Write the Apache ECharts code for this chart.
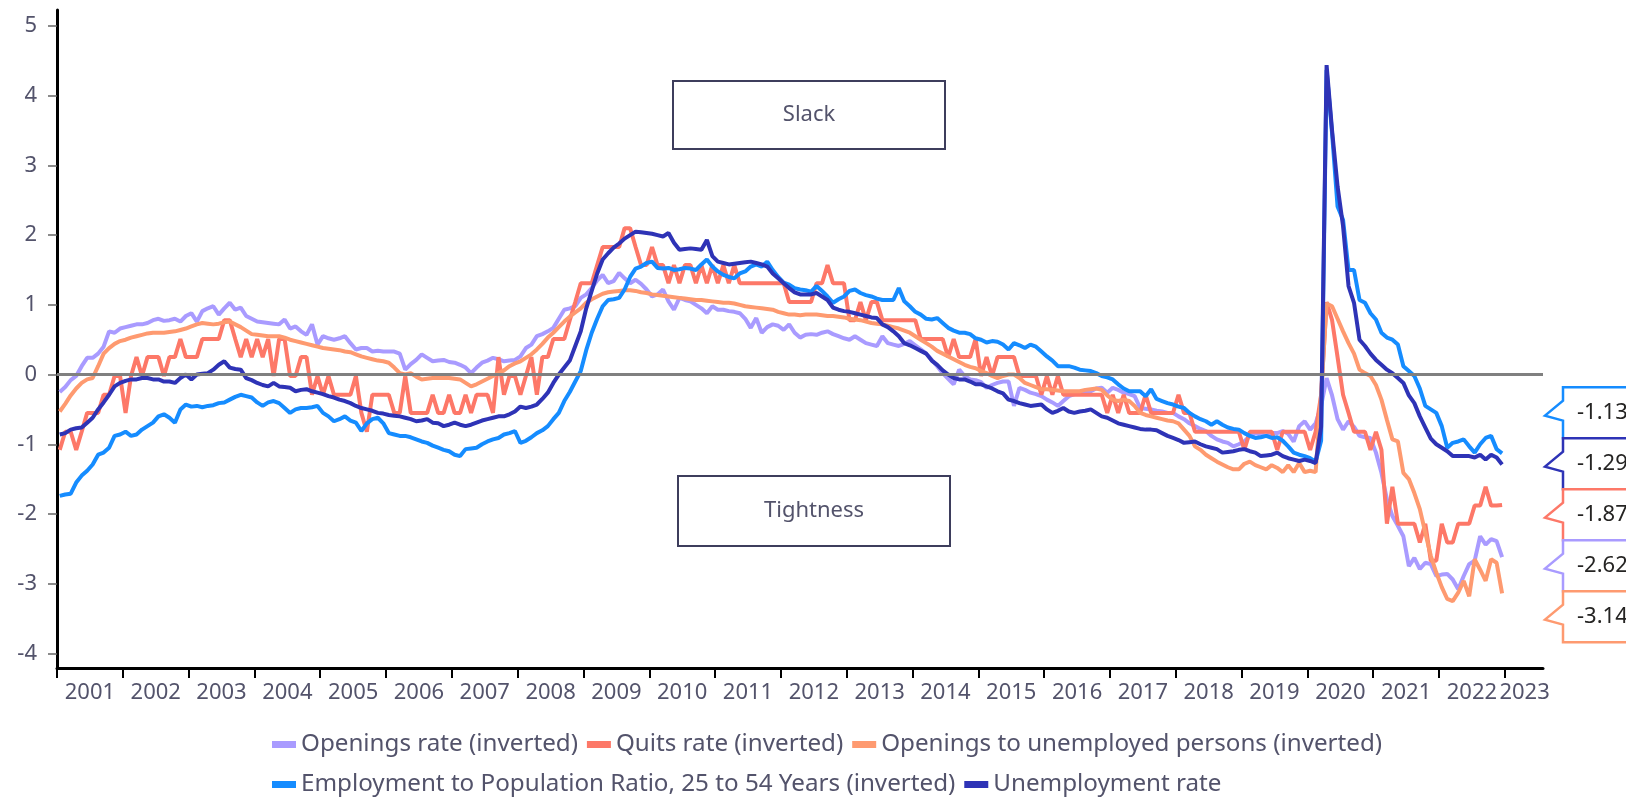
<!DOCTYPE html>
<html lang="en" style="height: 100%">

<head>
  <meta charset="utf-8">
</head>

<body style="height: 100%; margin: 0">
  <div id="container" style="width: 1626px; height: 799px"></div>

  <script type="text/javascript" src="https://fastly.jsdelivr.net/npm/echarts@6/dist/echarts.min.js"></script>

  <script type="text/javascript">
    // monthly values, Jan 2001 .. Dec 2022 (one row per year), standardised, up = slack
    var openingsRate = [
      -0.25, -0.18, -0.08, -0.02, 0.12, 0.24, 0.24, 0.30, 0.40, 0.62, 0.60, 0.66,
      0.68, 0.70, 0.72, 0.72, 0.74, 0.78, 0.80, 0.77, 0.78, 0.80, 0.76, 0.84,
      0.88, 0.76, 0.91, 0.95, 0.98, 0.86, 0.95, 1.03, 0.93, 0.96, 0.84, 0.80,
      0.76, 0.75, 0.74, 0.73, 0.72, 0.79, 0.66, 0.69, 0.62, 0.57, 0.72, 0.43,
      0.55, 0.52, 0.50, 0.52, 0.55, 0.45, 0.36, 0.38, 0.38, 0.33, 0.34, 0.33,
      0.33, 0.33, 0.30, 0.07, 0.15, 0.21, 0.29, 0.24, 0.19, 0.20, 0.21, 0.18,
      0.17, 0.14, 0.10, 0.02, 0.10, 0.17, 0.20, 0.24, 0.22, 0.19, 0.20, 0.21,
      0.26, 0.38, 0.43, 0.55, 0.58, 0.62, 0.67, 0.80, 0.93, 0.95, 0.98, 1.10,
      1.15, 1.24, 1.35, 1.43, 1.31, 1.34, 1.46, 1.38, 1.31, 1.36, 1.30, 1.22,
      1.12, 1.15, 1.22, 1.05, 0.93, 1.10, 1.07, 1.05, 1.00, 0.95, 0.88, 0.98,
      0.93, 0.93, 0.91, 0.90, 0.88, 0.80, 0.67, 0.81, 0.60, 0.68, 0.72, 0.70,
      0.64, 0.72, 0.60, 0.53, 0.57, 0.58, 0.57, 0.60, 0.62, 0.58, 0.55, 0.52,
      0.50, 0.55, 0.50, 0.45, 0.43, 0.41, 0.55, 0.45, 0.43, 0.41, 0.44, 0.48,
      0.42, 0.36, 0.30, 0.21, 0.12, 0.02, -0.06, -0.14, 0.07, -0.02, -0.07, -0.08,
      -0.11, -0.19, -0.15, -0.12, -0.10, -0.10, -0.45, -0.19, -0.22, -0.26, -0.28, -0.31,
      -0.36, -0.40, -0.45, -0.38, -0.31, -0.28, -0.26, -0.25, -0.24, -0.20, -0.19, -0.26,
      -0.19, -0.22, -0.26, -0.28, -0.31, -0.48, -0.49, -0.50, -0.52, -0.53, -0.55, -0.55,
      -0.60, -0.64, -0.70, -0.74, -0.78, -0.81, -0.88, -0.93, -0.96, -0.98, -1.03, -1.00,
      -0.96, -0.88, -0.84, -0.86, -0.88, -0.84, -0.84, -0.81, -0.85, -0.96, -0.74, -0.67,
      -0.79, -0.70, -0.45, -0.05, -0.30, -0.64, -0.79, -0.67, -0.75, -0.88, -0.90, -0.91,
      -1.12, -1.41, -1.79, -2.03, -2.17, -2.32, -2.75, -2.63, -2.79, -2.70, -2.72, -2.89,
      -2.87, -2.86, -2.94, -3.08, -2.89, -2.72, -2.67, -2.32, -2.44, -2.36, -2.39, -2.62
    ];
    var quitsRate = [
      -1.08, -0.82, -0.82, -1.08, -0.82, -0.55, -0.55, -0.55, -0.29, -0.29, -0.02, -0.02,
      -0.55, -0.02, 0.25, -0.02, 0.25, 0.25, 0.25, -0.02, 0.25, 0.25, 0.51, 0.25,
      0.25, 0.25, 0.51, 0.51, 0.51, 0.51, 0.78, 0.78, 0.51, 0.25, 0.51, 0.25,
      0.51, 0.25, 0.51, -0.02, 0.51, 0.51, -0.02, -0.02, 0.25, 0.25, -0.29, -0.02,
      -0.29, -0.02, -0.29, -0.29, -0.29, -0.29, -0.02, -0.55, -0.82, -0.29, -0.29, -0.29,
      -0.29, -0.55, -0.55, -0.02, -0.55, -0.55, -0.55, -0.55, -0.29, -0.55, -0.55, -0.29,
      -0.55, -0.55, -0.29, -0.55, -0.29, -0.29, -0.29, -0.55, 0.25, -0.29, -0.02, -0.02,
      -0.29, -0.02, 0.25, -0.29, 0.25, 0.25, 0.51, 0.51, 0.51, 0.78, 1.04, 1.31,
      1.31, 1.31, 1.57, 1.83, 1.83, 1.83, 1.83, 2.10, 2.10, 1.83, 1.57, 1.57,
      1.83, 1.57, 1.57, 1.31, 1.57, 1.31, 1.57, 1.57, 1.31, 1.57, 1.31, 1.57,
      1.31, 1.57, 1.31, 1.57, 1.31, 1.31, 1.31, 1.31, 1.31, 1.31, 1.31, 1.31,
      1.31, 1.04, 1.04, 1.04, 1.04, 1.04, 1.31, 1.31, 1.57, 1.31, 1.31, 1.31,
      0.78, 0.78, 1.04, 0.78, 1.04, 1.04, 0.78, 0.78, 0.78, 0.78, 0.78, 0.78,
      0.78, 0.51, 0.51, 0.51, 0.51, 0.51, 0.25, 0.51, 0.25, 0.25, 0.25, 0.51,
      -0.02, 0.25, -0.02, 0.25, 0.25, 0.25, 0.25, -0.02, -0.02, -0.02, -0.02, -0.29,
      -0.02, -0.29, -0.02, -0.29, -0.29, -0.29, -0.29, -0.29, -0.29, -0.29, -0.29, -0.55,
      -0.29, -0.55, -0.29, -0.55, -0.55, -0.55, -0.29, -0.55, -0.55, -0.55, -0.55, -0.55,
      -0.29, -0.55, -0.55, -0.82, -0.82, -0.82, -0.82, -0.82, -0.82, -0.82, -0.82, -0.82,
      -1.08, -0.82, -0.82, -0.82, -0.82, -0.82, -1.08, -0.82, -0.82, -0.82, -0.82, -0.82,
      -1.08, -0.82, -0.29, 1.04, 0.78, 0.25, -0.29, -0.55, -0.82, -0.82, -0.82, -1.08,
      -0.82, -1.08, -2.14, -1.61, -2.14, -2.14, -2.14, -2.14, -2.41, -2.14, -2.67, -2.67,
      -2.14, -2.41, -2.41, -2.14, -2.14, -2.14, -1.88, -1.88, -1.61, -1.88, -1.88, -1.87
    ];
    var openingsPerUnemployed = [
      -0.53, -0.42, -0.30, -0.20, -0.12, -0.07, -0.05, 0.12, 0.30, 0.38, 0.44, 0.48,
      0.50, 0.53, 0.55, 0.57, 0.59, 0.60, 0.60, 0.60, 0.61, 0.62, 0.64, 0.66,
      0.69, 0.72, 0.74, 0.73, 0.72, 0.73, 0.75, 0.76, 0.72, 0.68, 0.63, 0.58,
      0.57, 0.56, 0.55, 0.55, 0.55, 0.53, 0.50, 0.48, 0.46, 0.44, 0.42, 0.40,
      0.38, 0.37, 0.36, 0.35, 0.33, 0.32, 0.29, 0.26, 0.24, 0.22, 0.20, 0.19,
      0.17, 0.10, 0.02, 0.00, 0.02, -0.03, -0.07, -0.06, -0.05, -0.05, -0.05, -0.05,
      -0.06, -0.07, -0.12, -0.17, -0.14, -0.10, -0.06, -0.02, 0.02, 0.06, 0.12, 0.16,
      0.19, 0.24, 0.29, 0.36, 0.44, 0.53, 0.60, 0.68, 0.76, 0.83, 0.89, 0.95,
      1.03, 1.08, 1.12, 1.16, 1.18, 1.19, 1.20, 1.21, 1.21, 1.20, 1.18, 1.17,
      1.15, 1.14, 1.13, 1.12, 1.11, 1.10, 1.09, 1.08, 1.07, 1.07, 1.06, 1.05,
      1.04, 1.03, 1.03, 1.02, 1.00, 0.98, 0.97, 0.96, 0.95, 0.94, 0.93, 0.90,
      0.88, 0.86, 0.86, 0.85, 0.86, 0.86, 0.86, 0.85, 0.84, 0.84, 0.83, 0.82,
      0.80, 0.79, 0.78, 0.76, 0.74, 0.73, 0.72, 0.70, 0.68, 0.66, 0.63, 0.60,
      0.55, 0.50, 0.45, 0.40, 0.34, 0.30, 0.26, 0.22, 0.18, 0.14, 0.11, 0.09,
      0.05, 0.02, -0.02, -0.05, -0.02, 0.00, 0.00, -0.05, -0.12, -0.15, -0.18, -0.21,
      -0.21, -0.22, -0.23, -0.24, -0.24, -0.24, -0.24, -0.22, -0.21, -0.20, -0.22, -0.30,
      -0.36, -0.38, -0.36, -0.38, -0.45, -0.55, -0.58, -0.60, -0.62, -0.64, -0.66, -0.67,
      -0.70, -0.79, -0.88, -1.03, -1.08, -1.15, -1.20, -1.25, -1.29, -1.33, -1.36, -1.36,
      -1.28, -1.25, -1.30, -1.33, -1.36, -1.30, -1.34, -1.40, -1.30, -1.40, -1.27, -1.40,
      -1.38, -1.40, -0.30, 1.02, 0.98, 0.80, 0.62, 0.45, 0.30, 0.07, 0.02, -0.02,
      -0.15, -0.36, -0.65, -0.93, -0.96, -1.41, -1.50, -1.70, -1.93, -2.27, -2.60, -2.84,
      -3.05, -3.22, -3.25, -3.13, -2.96, -3.18, -2.65, -2.80, -2.96, -2.65, -2.70, -3.14
    ];
    var employmentRatio = [
      -1.74, -1.72, -1.71, -1.55, -1.45, -1.38, -1.29, -1.15, -1.12, -1.05, -0.88, -0.86,
      -0.82, -0.88, -0.86, -0.79, -0.74, -0.69, -0.60, -0.57, -0.62, -0.69, -0.50, -0.43,
      -0.46, -0.45, -0.47, -0.45, -0.44, -0.41, -0.40, -0.36, -0.32, -0.29, -0.31, -0.33,
      -0.40, -0.45, -0.40, -0.38, -0.41, -0.48, -0.55, -0.50, -0.48, -0.48, -0.47, -0.45,
      -0.55, -0.60, -0.67, -0.64, -0.60, -0.66, -0.69, -0.81, -0.70, -0.64, -0.62, -0.70,
      -0.84, -0.86, -0.88, -0.88, -0.90, -0.93, -0.96, -0.98, -1.02, -1.05, -1.08, -1.10,
      -1.15, -1.17, -1.07, -1.06, -1.05, -1.00, -0.96, -0.93, -0.91, -0.86, -0.84, -0.81,
      -0.98, -0.95, -0.90, -0.84, -0.80, -0.74, -0.64, -0.55, -0.38, -0.25, -0.10, 0.05,
      0.35, 0.60, 0.80, 0.98, 1.07, 1.08, 1.10, 1.22, 1.40, 1.52, 1.55, 1.60,
      1.62, 1.53, 1.52, 1.53, 1.50, 1.51, 1.53, 1.52, 1.50, 1.58, 1.65, 1.55,
      1.48, 1.43, 1.40, 1.38, 1.45, 1.48, 1.55, 1.58, 1.55, 1.62, 1.50, 1.40,
      1.32, 1.29, 1.24, 1.22, 1.21, 1.19, 1.27, 1.20, 1.12, 1.03, 1.08, 1.12,
      1.20, 1.22, 1.17, 1.14, 1.12, 1.09, 1.07, 1.07, 1.07, 1.24, 1.05, 0.98,
      0.90, 0.86, 0.80, 0.79, 0.81, 0.74, 0.67, 0.63, 0.60, 0.60, 0.58, 0.52,
      0.50, 0.46, 0.48, 0.47, 0.43, 0.36, 0.45, 0.42, 0.38, 0.43, 0.40, 0.33,
      0.26, 0.20, 0.12, 0.12, 0.12, 0.10, 0.07, 0.06, 0.05, 0.02, -0.02, -0.04,
      -0.07, -0.14, -0.20, -0.24, -0.24, -0.24, -0.31, -0.21, -0.35, -0.38, -0.41, -0.43,
      -0.46, -0.48, -0.55, -0.60, -0.64, -0.67, -0.72, -0.67, -0.72, -0.76, -0.78, -0.79,
      -0.84, -0.88, -0.91, -0.90, -0.88, -0.91, -0.90, -0.95, -1.03, -1.12, -1.15, -1.17,
      -1.20, -1.25, -0.95, 4.37, 3.46, 2.41, 2.22, 1.50, 1.50, 1.07, 1.03, 0.88,
      0.79, 0.60, 0.53, 0.50, 0.43, 0.12, 0.05, -0.02, -0.20, -0.45, -0.50, -0.55,
      -0.74, -1.05, -0.98, -0.96, -0.93, -1.03, -1.12, -1.00, -0.91, -0.88, -1.07, -1.13
    ];
    var unemploymentRate = [
      -0.86, -0.84, -0.79, -0.77, -0.76, -0.69, -0.62, -0.50, -0.40, -0.29, -0.17, -0.12,
      -0.09, -0.07, -0.07, -0.05, -0.05, -0.07, -0.07, -0.10, -0.10, -0.12, -0.05, 0.00,
      -0.07, 0.00, 0.01, 0.02, 0.07, 0.14, 0.19, 0.10, 0.08, 0.07, -0.05, -0.08,
      -0.12, -0.15, -0.17, -0.12, -0.17, -0.18, -0.19, -0.24, -0.22, -0.21, -0.24, -0.26,
      -0.28, -0.31, -0.33, -0.36, -0.38, -0.41, -0.45, -0.48, -0.50, -0.52, -0.55, -0.56,
      -0.58, -0.59, -0.60, -0.62, -0.64, -0.67, -0.66, -0.64, -0.69, -0.70, -0.74, -0.72,
      -0.69, -0.72, -0.74, -0.72, -0.69, -0.66, -0.64, -0.62, -0.60, -0.60, -0.57, -0.53,
      -0.46, -0.48, -0.46, -0.43, -0.35, -0.26, -0.12, 0.00, 0.10, 0.20, 0.41, 0.62,
      0.95, 1.20, 1.45, 1.65, 1.74, 1.82, 1.88, 1.95, 2.00, 2.05, 2.04, 2.03,
      2.02, 2.00, 1.98, 2.03, 1.89, 1.79, 1.80, 1.81, 1.80, 1.79, 1.93, 1.70,
      1.62, 1.60, 1.58, 1.59, 1.60, 1.61, 1.62, 1.60, 1.58, 1.55, 1.45, 1.38,
      1.31, 1.24, 1.18, 1.15, 1.15, 1.15, 1.17, 1.12, 1.07, 0.96, 0.93, 0.91,
      0.90, 0.88, 0.86, 0.84, 0.82, 0.81, 0.72, 0.68, 0.62, 0.55, 0.45, 0.42,
      0.38, 0.34, 0.30, 0.20, 0.14, 0.06, 0.00, -0.05, -0.07, -0.07, -0.10, -0.14,
      -0.14, -0.17, -0.20, -0.24, -0.27, -0.36, -0.38, -0.41, -0.43, -0.45, -0.44, -0.43,
      -0.50, -0.55, -0.52, -0.48, -0.53, -0.55, -0.53, -0.52, -0.50, -0.55, -0.60, -0.62,
      -0.66, -0.70, -0.72, -0.74, -0.76, -0.78, -0.79, -0.79, -0.80, -0.84, -0.88, -0.91,
      -0.94, -0.98, -0.97, -0.96, -1.00, -1.03, -1.05, -1.07, -1.12, -1.11, -1.10, -1.08,
      -1.07, -1.10, -1.12, -1.17, -1.16, -1.15, -1.12, -1.17, -1.20, -1.22, -1.24, -1.22,
      -1.24, -1.27, -0.75, 4.44, 3.50, 2.70, 2.13, 1.27, 1.03, 0.50, 0.41, 0.30,
      0.21, 0.14, 0.07, 0.02, -0.05, -0.12, -0.30, -0.41, -0.60, -0.76, -0.92, -1.00,
      -1.05, -1.10, -1.17, -1.17, -1.17, -1.17, -1.19, -1.15, -1.22, -1.15, -1.19, -1.29
    ];

    var seriesNames = [
      'Openings rate (inverted)',
      'Quits rate (inverted)',
      'Openings to unemployed persons (inverted)',
      'Employment to Population Ratio, 25 to 54 Years (inverted)',
      'Unemployment rate'
    ];
    var seriesValues = [openingsRate, quitsRate, openingsPerUnemployed, employmentRatio, unemploymentRate];
    var seriesColors = ['#a99bff', '#fd7868', '#fe9a70', '#158cff', '#2e33b6'];

    var yearTicks = [];
    for (var y = 2001; y <= 2023; y++) yearTicks.push(y);
    // year labels sit mid-year; the last one is squeezed by the axis end
    var yearLabelPos = yearTicks.map(function (t) { return t < 2023 ? t + 0.5 : t + 0.3; });
    var valueTicks = [-4, -3, -2, -1, 0, 1, 2, 3, 4, 5];

    // each month sits mid-month on a decimal-year axis
    var months = [];
    for (var i = 0; i < openingsRate.length; i++) months.push(2001 + (i + 0.5) / 12);

    var xMax = 2023.58;
    var labelColor = '#53536b';

    var dom = document.getElementById('container');
    var myChart = echarts.init(dom, null, { renderer: 'canvas' });

    var option = {
      animation: false,
      textStyle: { fontFamily: 'Noto Sans' },
      grid: { left: 57, right: 83, top: 10, bottom: 131 },
      legend: {
        left: 272,
        top: 729,
        width: 1150,
        padding: 0,
        icon: 'rect',
        itemWidth: 24,
        itemHeight: 7,
        itemGap: 9,
        selectedMode: false,
        textStyle: { fontSize: 24.2, color: labelColor, lineHeight: 31 },
        data: seriesNames
      },
      xAxis: {
        type: 'value',
        min: 2001,
        max: xMax,
        axisLine: { onZero: false, lineStyle: { color: '#000', width: 3 } },
        axisTick: { customValues: yearTicks, length: 10, lineStyle: { color: '#000', width: 2 } },
        axisLabel: {
          customValues: yearLabelPos,
          formatter: function (v) { return String(Math.floor(v)); },
          fontSize: 22,
          color: labelColor,
          margin: 14
        },
        splitLine: { show: false }
      },
      yAxis: {
        type: 'value',
        min: -4.21,
        max: 5.23,
        axisLine: { show: true, onZero: false, lineStyle: { color: '#000', width: 3 } },
        axisTick: { show: true, customValues: valueTicks, length: 9, lineStyle: { color: '#666', width: 1.5 } },
        axisLabel: { customValues: valueTicks, fontSize: 22, color: labelColor, margin: 20 },
        splitLine: { show: false }
      },
      series: seriesNames.map(function (name, k) {
        var s = {
          name: name,
          type: 'line',
          data: months.map(function (t, i) { return [t, seriesValues[k][i]]; }),
          showSymbol: false,
          symbol: 'none',
          color: seriesColors[k],
          lineStyle: { width: 4, color: seriesColors[k] },
          emphasis: { disabled: true }
        };
        if (k === 0) {
          s.markLine = {
            silent: true,
            symbol: 'none',
            label: { show: false },
            lineStyle: { color: '#808080', width: 3, type: 'solid' },
            data: [{ yAxis: 0 }]
          };
        }
        return s;
      })
    };

    myChart.setOption(option);

    // end-value callouts, stacked so they don't overlap
    var boxH = 51;
    var gridRight = myChart.convertToPixel({ gridIndex: 0 }, [xMax, 0])[0];
    var boxLeft = gridRight + 20;
    var lastT = months[months.length - 1];
    var ends = seriesValues.map(function (vals, k) {
      var v = vals[vals.length - 1];
      return { k: k, v: v, y: myChart.convertToPixel({ gridIndex: 0 }, [lastT, v])[1] };
    });
    ends.sort(function (a, b) { return a.y - b.y; });
    var groups = [];
    ends.forEach(function (e) {
      groups.push({ items: [e], sum: e.y });
      while (groups.length > 1) {
        var b = groups[groups.length - 1], a = groups[groups.length - 2];
        var aBottom = a.sum / a.items.length + a.items.length * boxH / 2;
        var bTop = b.sum / b.items.length - b.items.length * boxH / 2;
        if (aBottom <= bTop) break;
        groups.pop();
        a.items = a.items.concat(b.items);
        a.sum += b.sum;
      }
    });

    var graphics = [
      {
        type: 'rect', shape: { x: 673, y: 81, width: 272, height: 68 },
        style: { fill: '#fff', stroke: '#3d3d5c', lineWidth: 2 }, z: 50
      },
      {
        type: 'text', x: 809, y: 115,
        style: { text: 'Slack', font: '22px "Noto Sans"', fill: labelColor, align: 'center', verticalAlign: 'middle' }, z: 51
      },
      {
        type: 'rect', shape: { x: 678, y: 476, width: 272, height: 70 },
        style: { fill: '#fff', stroke: '#3d3d5c', lineWidth: 2 }, z: 50
      },
      {
        type: 'text', x: 814, y: 511,
        style: { text: 'Tightness', font: '22px "Noto Sans"', fill: labelColor, align: 'center', verticalAlign: 'middle' }, z: 51
      }
    ];

    groups.forEach(function (g) {
      var top = g.sum / g.items.length - g.items.length * boxH / 2;
      g.items.forEach(function (e, j) {
        var t = top + j * boxH, b = t + boxH, cy = t + boxH / 2;
        graphics.push({
          type: 'polygon',
          shape: {
            points: [[boxLeft, t], [1640, t], [1640, b], [boxLeft, b],
              [boxLeft, cy + 8], [boxLeft - 18, cy + 3], [boxLeft, cy - 12]]
          },
          style: { fill: '#fff', stroke: seriesColors[e.k], lineWidth: 2.5 },
          z: 60
        });
        graphics.push({
          type: 'text', x: boxLeft + 14, y: cy,
          style: { text: e.v.toFixed(2), font: '22px "Noto Sans"', fill: '#252423', verticalAlign: 'middle' },
          z: 61
        });
      });
    });

    myChart.setOption({ graphic: graphics });

    window.addEventListener('resize', myChart.resize);
  </script>
</body>

</html>
